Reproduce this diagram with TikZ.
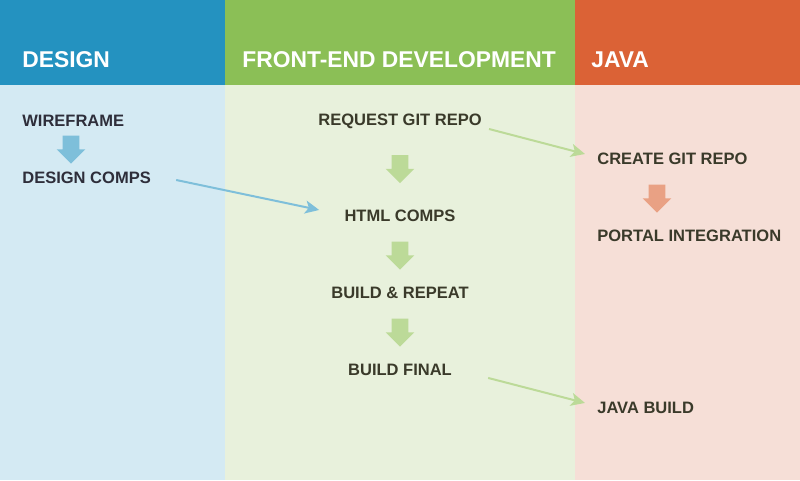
\documentclass[tikz,border=0pt]{standalone}
\usepackage{fontspec}
\setmainfont{Liberation Sans}
\usetikzlibrary{positioning}
\usetikzlibrary{arrows.meta}
\usetikzlibrary{shapes.arrows,calc}
\definecolor{designhead}{HTML}{2492C0}
\definecolor{designbg}{HTML}{D4EAF3}
\definecolor{designarrow}{HTML}{7EBFDA}
\definecolor{designtext}{HTML}{2E2E3A}
\definecolor{fronthead}{HTML}{8BBF56}
\definecolor{frontbg}{HTML}{E8F1DC}
\definecolor{frontarrow}{HTML}{BCDA98}
\definecolor{javahead}{HTML}{DB6236}
\definecolor{javabg}{HTML}{F6DFD7}
\definecolor{javaarrow}{HTML}{E9A184}
\definecolor{tasktext}{HTML}{3A3A2A}
\tikzset{lane title/.style={anchor=west,inner sep=0pt,text=white,font=\bfseries\fontsize{13}{15}\selectfont},
  task/.style={inner sep=0pt,text depth=0pt,text=tasktext,font=\bfseries\fontsize{9.4}{11}\selectfont},
  downarrow/.style={single arrow,shape border rotate=270,draw=none,inner xsep=0.16cm,inner ysep=0.02cm,
    minimum height=0.56cm,single arrow head extend=0.12cm},
  handoff/.style={line width=0.04cm,-{Stealth[length=0.28cm,width=0.26cm,inset=0.07cm]}},}

\begin{document}
\begin{tikzpicture}[x=0.02cm,y=-0.02cm]
    \useasboundingbox (0,0) rectangle (800,480);
    % lanes
    \fill[designbg] (0,0) rectangle (225,480);
    \fill[frontbg] (225,0) rectangle (575,480);
    \fill[javabg] (575,0) rectangle (800,480);
    \fill[designhead] (0,0) rectangle (225,85);
    \fill[fronthead] (225,0) rectangle (575,85);
    \fill[javahead] (575,0) rectangle (800,85);
    \node[lane title] (design) at (22,59.5) {DESIGN};
    \node[lane title] (front) at (242,59.5) {FRONT-END DEVELOPMENT};
    \node[lane title] (java) at (591,59.5) {JAVA};

    % design
    \node[task,text=designtext,anchor=west] (wire) at (22,121) {WIREFRAME};
    \node[task,text=designtext,below=1.14cm of wire.west,anchor=west] (dcomps) {DESIGN COMPS};
    % front-end
    \node[task] (req) at (400,120) {REQUEST GIT REPO};
    \node[task,below=1.92cm of req.center,anchor=center] (html) {HTML COMPS};
    \node[task,below=1.54cm of html.center,anchor=center] (brep) {BUILD \& REPEAT};
    \node[task,below=1.54cm of brep.center,anchor=center] (final) {BUILD FINAL};
    % java
    \node[task,anchor=west] (create) at (597,159) {CREATE GIT REPO};
    \node[task,below=1.54cm of create.west,anchor=west] (portal) {PORTAL INTEGRATION};
    \node[task,below=3.44cm of portal.west,anchor=west] (jbuild) {JAVA BUILD};

    % steps inside a lane
    \node[downarrow,fill=designarrow] (d1) at ($(wire.west)!0.5!(dcomps.west)+(49,-4)$) {};
    \node[downarrow,fill=frontarrow] (f1) at ($(req)!0.5!(html)+(0,-3)$) {};
    \node[downarrow,fill=frontarrow] (f2) at ($(html)!0.5!(brep)+(0,-3)$) {};
    \node[downarrow,fill=frontarrow] (f3) at ($(brep)!0.5!(final)+(0,-3)$) {};
    \node[downarrow,fill=javaarrow] (j1) at ($(create.west)!0.5!(portal.west)+(60,-3)$) {};

    % hand-offs between lanes
    \draw[handoff,designarrow] ([shift={(25,2)}]dcomps.east) -- ([shift={(-25,-6)}]html.west);
    \draw[handoff,frontarrow] ([shift={(7,9)}]req.east) -- ([shift={(-12,-5)}]create.west);
    \draw[handoff,frontarrow] ([shift={(36,8)}]final.east) -- ([shift={(-12,-5)}]jbuild.west);
\end{tikzpicture}
\end{document}
